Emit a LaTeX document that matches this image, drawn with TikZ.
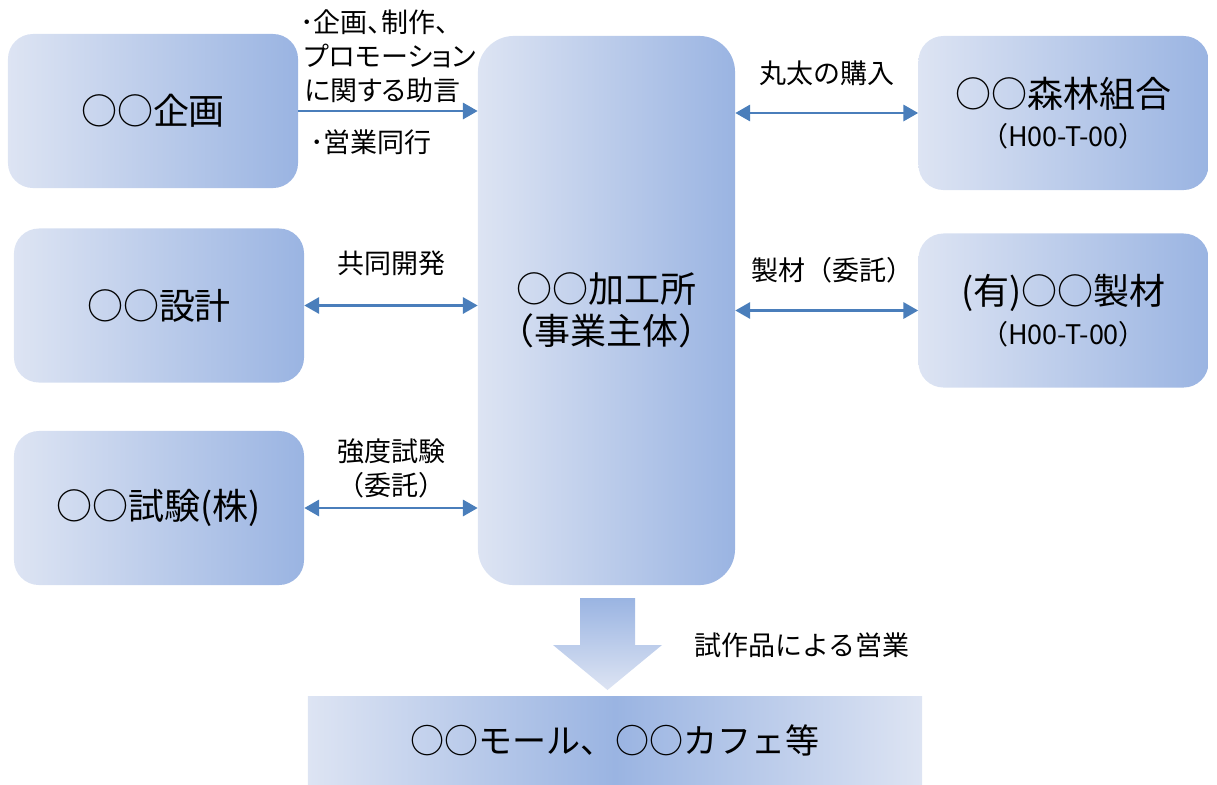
\documentclass[tikz,border=0pt]{standalone}
\usepackage{fontspec}
\setmainfont{Noto Sans CJK JP}
\newfontfamily\paltfont[RawFeature=+palt]{Noto Sans CJK JP}
\usepackage{xcolor}
\usetikzlibrary{arrows.meta}
\definecolor{boxlight}{HTML}{DDE4F3}
\definecolor{boxdark}{HTML}{9AB4E2}
\definecolor{linkblue}{HTML}{4A7EBB}
\newcommand{\bigtext}{\fontsize{25.6}{30}\selectfont}
\newcommand{\smalltext}{\fontsize{19.2}{24.2}\selectfont}
\tikzstyle{block} = [rectangle, left color=boxlight, right color=boxdark,
    rounded corners=0.625cm, minimum width=7.25cm, minimum height=3.85cm,
    inner sep=0pt, align=center, font=\bigtext]
\tikzstyle{mainblock} = [block, rounded corners=0.9cm, minimum width=6.425cm,
    minimum height=13.725cm]
\tikzstyle{outlet} = [rectangle, left color=boxlight, right color=boxlight,
    middle color=boxdark, minimum width=15.35cm, minimum height=2.175cm,
    inner sep=0pt, font=\fontsize{24.2}{28}\selectfont]
\tikzstyle{note} = [font=\smalltext, align=center, inner sep=0pt]
\tikzstyle{arrow} = [draw=linkblue, line width=1.8pt, -{Triangle[length=10.5pt,width=11.5pt]}]
\tikzstyle{dblarrow} = [draw=linkblue, line width=1.8pt,
    {Triangle[length=10.5pt,width=11.5pt]}-{Triangle[length=10.5pt,width=11.5pt]}]
\newcommand{\regno}[1]{\\[-2pt]{\smalltext #1}}

\begin{document}
\begin{tikzpicture}[x=0.025cm, y=-0.025cm]
  \useasboundingbox (0,0) rectangle (1217,784);
  % Place nodes
  \node [block] (kikaku) at (153,111) {○○企画};
  \node [block] (sekkei) at (159,305.5) {○○設計};
  \node [block] (shiken) at (159,508) {○○試験(株)};
  \node [mainblock] (kakousho) at (606.5,310.5) {○○加工所\\（事業主体）};
  \node [block] (shinrin) at (1063.5,113) {○○森林組合\regno{（H00-T-00）}};
  \node [block] (seizai) at (1063.5,310.5) {(有)○○製材\regno{（H00-T-00）}};
  \node [outlet] (outlet) at (615,740.5) {○○モール、○○カフェ等};
  %
  \node [note, anchor=west, align=left] (adviceNote) at (300,56)
    {\paltfont ･企画、制作、\\\paltfont\hspace*{3pt}プロモーション\\\paltfont\hspace*{3pt}に関する助言};
  \node [note, anchor=west] (salesNote) at (310,142) {･営業同行};
  \path [arrow] (kikaku.east) -- (kikaku.east -| kakousho.west);
  \path [dblarrow] (sekkei.east) -- node [note, yshift=1.05cm] (devNote) {共同開発} (sekkei.east -| kakousho.west);
  \path [dblarrow] (shiken.east) -- node [note, yshift=1.0cm] (testNote) {強度試験\\（委託）} (shiken.east -| kakousho.west);
  \path [dblarrow] (shinrin.west -| kakousho.east) -- node [note, yshift=1.0cm] (logNote) {丸太の購入} (shinrin.west);
  \path [dblarrow] (seizai.west -| kakousho.east) -- node [note, yshift=1.0cm, xshift=4pt] (sawNote) {製材（委託）} (seizai.west);
  % block arrow to the shops
  \path [top color=boxdark, bottom color=boxlight] (580,598) -- (635,598) -- (635,645)
    -- (662,645) -- (607.5,690) -- (553,645) -- (580,645) -- cycle;
  \node [note] (protoNote) at (802,645) {試作品による営業};
\end{tikzpicture}
\end{document}
